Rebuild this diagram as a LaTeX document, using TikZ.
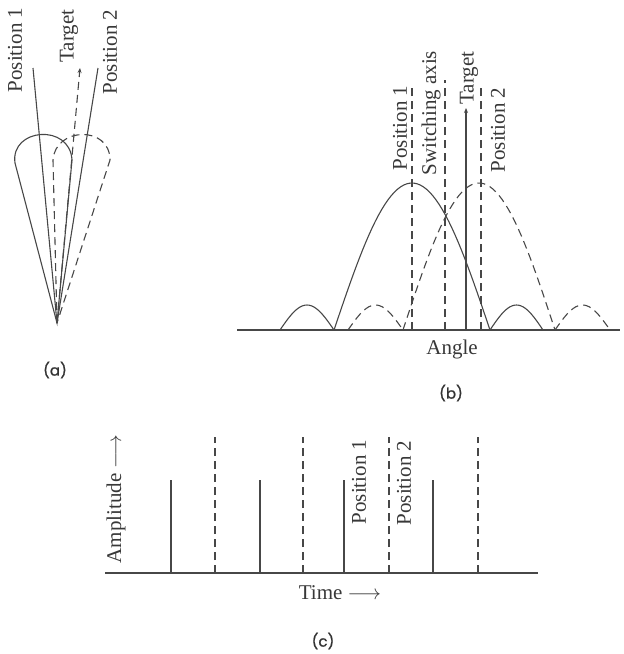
\documentclass[tikz,border=0pt]{standalone}
\usepackage{fontspec}
\setmainfont{Liberation Serif}
\newfontfamily\capfont[FakeBold=1]{Poppins}
\usetikzlibrary{arrows.meta}
\begin{document}
\begin{tikzpicture}[x=1pt,y=-1pt,
  ln/.style={line width=1.1pt,draw=black!72},
  dsh/.style={ln,dash pattern=on 8pt off 5pt},
  lbl/.style={text=black!78,font=\fontsize{21}{25}\selectfont,inner sep=0pt},
  vlbl/.style={lbl,rotate=90},
  figcap/.style={text=black!80,font=\capfont\fontsize{15}{18}\selectfont,inner sep=0pt}]
\useasboundingbox (0,0) rectangle (624,654);
% ---------- (a) ----------
\coordinate (ap) at (57,323);
\coordinate (p1t) at (33,68);
\coordinate (tgt) at (80,68);
\coordinate (p2t) at (98,68);
\draw[ln] (ap) -- (15,163) .. controls (10,128) and (70,123) .. (72,160) -- cycle;
\draw[dsh] (ap) -- (53,160) .. controls (55,127) and (110,125) .. (110,160) -- cycle;
\draw[ln] (ap) -- (p1t);
\draw[ln] (ap) -- (p2t);
\draw[dsh,-{Stealth[length=5pt,width=4pt]}] (ap) -- (tgt);
\node[vlbl] (la1) at (15,50) {Position 1};
\node[vlbl] (lat) at (69,36) {Target};
\node[vlbl] (la2) at (110,52) {Position 2};
\node[figcap] (capa) at (55,370) {(a)};
% ---------- (b) ----------
\coordinate (bl) at (237,330);
\coordinate (br) at (620,330);
\draw[ln] (bl) -- (br);
\draw[ln] plot[domain=0:180,samples=25] ({280+0.3*\x},{330-25*sin(\x)});
\draw[dsh] plot[domain=0:180,samples=25] ({348+0.30556*\x},{330-25*sin(\x)});
\draw[ln] plot[domain=0:180,samples=50] ({334+0.86667*\x},{330-147*sin(\x)});
\draw[dsh] plot[domain=0:180,samples=50] ({403+0.84444*\x},{330-147*sin(\x)});
\draw[ln] plot[domain=0:180,samples=25] ({490+0.29444*\x},{330-25*sin(\x)});
\draw[dsh] plot[domain=0:180,samples=25] ({555+0.30556*\x},{330-25*sin(\x)});
\coordinate (bp1t) at (412,84);
\coordinate (bp1b) at (412,330);
\coordinate (bswt) at (445,80);
\coordinate (bswb) at (445,330);
\coordinate (bp2t) at (481,84);
\coordinate (bp2b) at (481,330);
\coordinate (btt) at (466,108);
\coordinate (btb) at (466,330);
\draw[dsh] (bp1b) -- (bp1t);
\draw[dsh] (bswb) -- (bswt);
\draw[dsh] (bp2b) -- (bp2t);
\draw[ln,-{Stealth[length=5pt,width=4pt]}] (btb) -- (btt);
\node[vlbl] (lb1) at (400,128) {Position 1};
\node[vlbl] (lbs) at (431,113) {Switching axis};
\node[vlbl] (lbt) at (469,78) {Target};
\node[vlbl] (lb2) at (498,130) {Position 2};
\node[lbl] (ang) at (452,349) {Angle};
\node[figcap] (capb) at (451,393) {(b)};
% ---------- (c) ----------
\coordinate (cl) at (105,573);
\coordinate (cr) at (538,573);
\draw[ln] (cl) -- (cr);
\foreach \xx [count=\i] in {171,260,344,433}{
  \coordinate (s\i) at (\xx,480);
  \coordinate (sb\i) at (\xx,573);
  \draw[ln] (sb\i) -- (s\i);
}
\foreach \xx [count=\i] in {215,303,389,478}{
  \coordinate (d\i) at (\xx,437);
  \coordinate (db\i) at (\xx,573);
  \draw[dsh] (db\i) -- (d\i);
}
\node[vlbl] (amp) at (116,499) {Amplitude $\longrightarrow$};
\node[lbl] (time) at (340,593) {Time $\longrightarrow$};
\node[vlbl] (lc1) at (359,482) {Position 1};
\node[vlbl] (lc2) at (404,483) {Position 2};
\node[figcap] (capc) at (323,641) {(c)};
\end{tikzpicture}
\end{document}
